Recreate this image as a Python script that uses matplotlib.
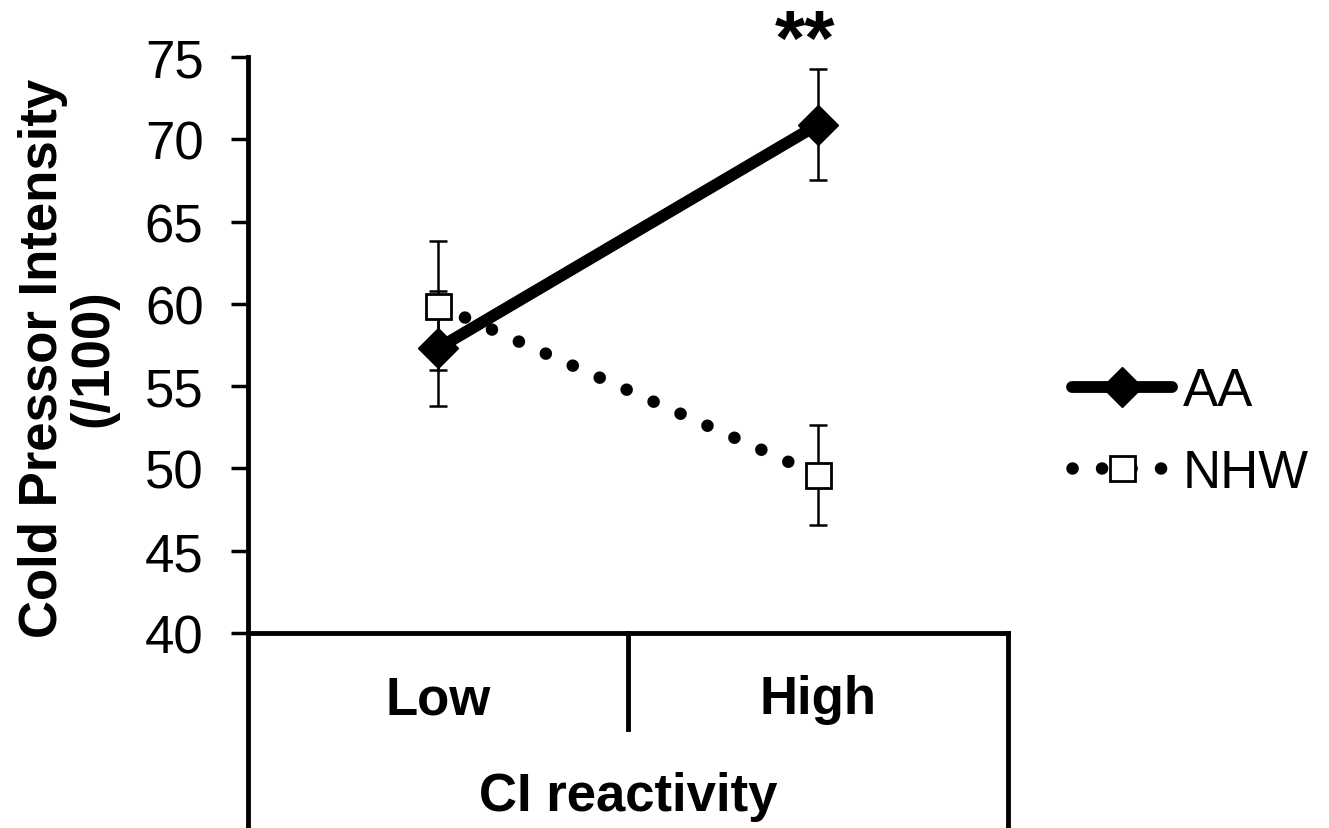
import matplotlib.pyplot as plt
import matplotlib.transforms as mtransforms

plt.rcParams['font.family'] = ['Liberation Sans', 'DejaVu Sans']

# Data
categories = ['Low', 'High']
aa_mean = [57.3, 70.9]
aa_err = [3.5, 3.4]
nhw_mean = [59.9, 49.6]
nhw_err = [3.9, 3.05]
yticks = [40, 45, 50, 55, 60, 65, 70, 75]

x = [0.5, 1.5]

fig = plt.figure(figsize=(13.29, 8.29), dpi=100)
ax = fig.add_axes([0.1866, 0.2352, 0.5719, 0.6948])

# error bars first so the markers sit on top
ax.errorbar(x, aa_mean, yerr=aa_err, fmt='none', ecolor='black',
            elinewidth=1.8, capsize=6.5, capthick=1.8, zorder=2)
ax.errorbar(x, nhw_mean, yerr=nhw_err, fmt='none', ecolor='black',
            elinewidth=1.8, capsize=6.5, capthick=1.8, zorder=2)

# series
ax.plot(x, nhw_mean, color='black', lw=9, linestyle=(0, (0.01, 2.35)),
        dash_capstyle='round', marker='s', markersize=18,
        markerfacecolor='white', markeredgecolor='black', markeredgewidth=2,
        label='NHW', zorder=3)
ax.plot(x, aa_mean, color='black', lw=8.5, solid_capstyle='round',
        marker='D', markersize=20, label='AA', zorder=4)

# significance mark
ax.annotate('**', xy=(x[1], aa_mean[1] + aa_err[1]), xytext=(-9, 3),
            textcoords='offset points', ha='center', va='baseline',
            fontsize=56, fontweight='bold', annotation_clip=False)

# axes styling
ax.set_xlim(0, 2)
ax.set_ylim(40, 75)
ax.set_yticks(yticks)
ax.set_xticks([])
for s in ['top', 'right']:
    ax.spines[s].set_visible(False)
ax.spines['left'].set_linewidth(3.5)
ax.spines['bottom'].set_linewidth(3.5)
ax.tick_params(axis='y', direction='out', length=12, width=2.5,
               labelsize=38, pad=20)

# multi-level category box below the axis
trans = mtransforms.blended_transform_factory(ax.transData, fig.transFigure)
ax.plot([0, 0], [0.2352, 0.0], color='black', lw=3.5, transform=trans, clip_on=False)
ax.plot([1, 1], [0.2352, 0.1194], color='black', lw=3.5, transform=trans, clip_on=False)
ax.plot([2, 2], [0.2352, 0.0], color='black', lw=3.5, transform=trans, clip_on=False)
for xi, cat in zip(x, categories):
    ax.text(xi, 0.1556, cat, transform=trans, ha='center', va='center',
            fontsize=38, fontweight='bold')
ax.text(1.0, 0.0386, 'CI reactivity', transform=trans, ha='center', va='center',
        fontsize=38, fontweight='bold')

fig.text(0.0512, 0.568, 'Cold Pressor Intensity\n(/100)', rotation=90,
         ha='center', va='center', multialignment='center',
         fontsize=38, fontweight='bold', linespacing=1.0)

# legend
handles, labels = ax.get_legend_handles_labels()
fig.legend(handles[::-1], labels[::-1], loc='center left',
           bbox_to_anchor=(0.8066, 0.4777), frameon=False, fontsize=38,
           handlelength=1.9, handletextpad=0.2, labelspacing=0.6,
           borderpad=0, borderaxespad=0, numpoints=1)

fig.savefig('out.png', dpi=100)
